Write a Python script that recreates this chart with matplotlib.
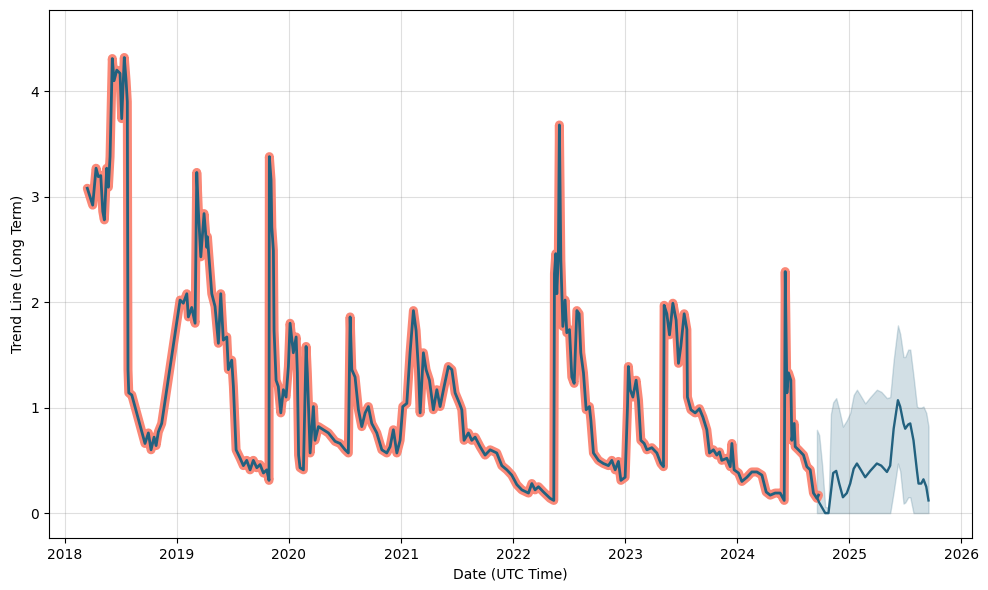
import numpy as np
import pandas as pd
import matplotlib
matplotlib.use('Agg')
import matplotlib.pyplot as plt
import matplotlib.dates as mdates

# history: decimal years since 2018-01-01, trend value
hist_t = [0.199, 0.232, 0.247, 0.277, 0.297, 0.319, 0.337, 0.351, 0.372, 0.387,
          0.402, 0.422, 0.438, 0.462, 0.491, 0.506, 0.529, 0.545, 0.556, 0.562,
          0.569, 0.596, 0.714, 0.744, 0.768, 0.795, 0.813, 0.833, 0.863, 1.027,
          1.056, 1.087, 1.101, 1.131, 1.161, 1.176, 1.190, 1.212, 1.241, 1.265,
          1.271, 1.310, 1.339, 1.369, 1.390, 1.413, 1.444, 1.458, 1.488, 1.503,
          1.527, 1.563, 1.592, 1.622, 1.652, 1.681, 1.712, 1.741, 1.771, 1.801,
          1.821, 1.824, 1.839, 1.846, 1.860, 1.866, 1.884, 1.904, 1.926, 1.949,
          1.973, 1.994, 2.009, 2.038, 2.063, 2.074, 2.085, 2.098, 2.128, 2.152,
          2.163, 2.188, 2.217, 2.232, 2.262, 2.306, 2.351, 2.411, 2.455, 2.500,
          2.529, 2.545, 2.560, 2.589, 2.619, 2.649, 2.679, 2.708, 2.738, 2.783,
          2.828, 2.872, 2.902, 2.931, 2.962, 2.991, 3.015, 3.051, 3.080, 3.110,
          3.134, 3.155, 3.170, 3.199, 3.223, 3.253, 3.288, 3.319, 3.348, 3.384,
          3.422, 3.453, 3.482, 3.521, 3.542, 3.562, 3.601, 3.631, 3.661, 3.705,
          3.750, 3.795, 3.854, 3.899, 3.944, 3.988, 4.033, 4.078, 4.137, 4.167,
          4.196, 4.226, 4.271, 4.330, 4.363, 4.369, 4.381, 4.390, 4.404, 4.413,
          4.426, 4.444, 4.464, 4.479, 4.503, 4.524, 4.545, 4.569, 4.589, 4.604,
          4.628, 4.652, 4.681, 4.694, 4.717, 4.762, 4.806, 4.851, 4.881, 4.911,
          4.940, 4.962, 5.000, 5.021, 5.029, 5.045, 5.069, 5.098, 5.119, 5.140,
          5.170, 5.194, 5.238, 5.283, 5.319, 5.342, 5.348, 5.372, 5.396, 5.426,
          5.455, 5.476, 5.497, 5.527, 5.551, 5.556, 5.587, 5.625, 5.663, 5.694,
          5.729, 5.753, 5.788, 5.818, 5.842, 5.863, 5.908, 5.938, 5.953, 5.973,
          6.012, 6.042, 6.087, 6.131, 6.176, 6.221, 6.259, 6.295, 6.339, 6.384,
          6.420, 6.429, 6.444, 6.458, 6.479, 6.488, 6.509, 6.518, 6.547, 6.592,
          6.622, 6.652, 6.681, 6.712, 6.726]
hist_y = [3.08, 2.97, 2.92, 3.27, 3.19, 3.20, 2.86, 2.78, 3.27, 3.09,
          3.38, 4.31, 4.10, 4.20, 4.17, 3.74, 4.32, 4.10, 3.90, 1.36,
          1.14, 1.12, 0.66, 0.76, 0.60, 0.72, 0.64, 0.77, 0.85, 2.02,
          1.99, 2.08, 1.86, 1.95, 1.80, 3.23, 2.87, 2.43, 2.84, 2.52,
          2.62, 2.08, 1.96, 1.61, 2.08, 1.64, 1.67, 1.36, 1.45, 1.20,
          0.60, 0.52, 0.45, 0.50, 0.41, 0.50, 0.43, 0.46, 0.38, 0.41,
          0.31, 3.38, 3.16, 2.71, 2.49, 1.73, 1.26, 1.20, 0.95, 1.17,
          1.10, 1.39, 1.80, 1.52, 1.67, 1.33, 0.55, 0.43, 0.41, 1.58,
          1.33, 0.57, 1.01, 0.69, 0.82, 0.79, 0.76, 0.68, 0.66, 0.60,
          0.57, 1.86, 1.36, 1.29, 0.98, 0.82, 0.95, 1.01, 0.85, 0.76,
          0.60, 0.57, 0.63, 0.79, 0.57, 0.69, 1.01, 1.04, 1.52, 1.92,
          1.73, 1.36, 0.95, 1.52, 1.36, 1.26, 0.98, 1.17, 1.01, 1.20,
          1.39, 1.36, 1.14, 1.04, 0.98, 0.69, 0.76, 0.69, 0.72, 0.63,
          0.55, 0.60, 0.57, 0.45, 0.41, 0.36, 0.27, 0.22, 0.19, 0.28,
          0.22, 0.25, 0.20, 0.14, 0.12, 2.27, 2.46, 2.08, 2.46, 3.68,
          2.40, 1.77, 2.02, 1.71, 1.74, 1.29, 1.23, 1.92, 1.89, 1.52,
          1.33, 0.98, 1.01, 0.88, 0.57, 0.50, 0.47, 0.45, 0.50, 0.41,
          0.49, 0.31, 0.34, 1.01, 1.39, 1.17, 1.10, 1.26, 1.07, 0.69,
          0.66, 0.60, 0.62, 0.57, 0.47, 0.44, 1.97, 1.89, 1.69, 1.99,
          1.83, 1.42, 1.58, 1.89, 1.74, 1.10, 0.98, 0.95, 0.99, 0.91,
          0.79, 0.57, 0.60, 0.55, 0.58, 0.50, 0.52, 0.44, 0.66, 0.41,
          0.38, 0.30, 0.34, 0.39, 0.39, 0.36, 0.20, 0.17, 0.19, 0.19,
          0.12, 2.29, 1.14, 1.33, 1.26, 0.69, 0.85, 0.63, 0.60, 0.55,
          0.44, 0.41, 0.19, 0.14, 0.17]

# forecast part
fc_t = [6.712, 6.732, 6.759, 6.786, 6.815, 6.837, 6.857, 6.884, 6.911, 6.944,
        6.979, 7.009, 7.040, 7.069, 7.098, 7.143, 7.188, 7.247, 7.286, 7.337,
        7.366, 7.397, 7.435, 7.455, 7.485, 7.500, 7.527, 7.545, 7.574, 7.605,
        7.619, 7.643, 7.663, 7.688, 7.708]
fc_y = [0.15, 0.10, 0.05, 0.00, 0.00, 0.20, 0.38, 0.40, 0.28, 0.15,
        0.19, 0.28, 0.42, 0.47, 0.42, 0.34, 0.40, 0.47, 0.45, 0.39,
        0.45, 0.80, 1.07, 1.01, 0.85, 0.80, 0.84, 0.85, 0.69, 0.40,
        0.28, 0.28, 0.32, 0.25, 0.12]
fc_lo = [0.00, 0.00, 0.00, 0.00, 0.00, 0.00, 0.00, 0.00, 0.00, 0.00,
         0.00, 0.00, 0.00, 0.00, 0.00, 0.00, 0.00, 0.00, 0.00, 0.00,
         0.00, 0.20, 0.47, 0.40, 0.09, 0.10, 0.15, 0.15, 0.00, 0.00,
         0.00, 0.00, 0.00, 0.00, 0.00]
fc_hi = [0.79, 0.74, 0.45, 0.06, 0.05, 0.94, 1.05, 1.09, 0.98, 0.82,
         0.88, 0.95, 1.12, 1.17, 1.12, 1.04, 1.10, 1.17, 1.15, 1.09,
         1.10, 1.45, 1.78, 1.70, 1.48, 1.48, 1.55, 1.55, 1.30, 1.01,
         1.00, 1.00, 1.01, 0.95, 0.82]


def to_dates(t):
    return pd.Timestamp('2018-01-01') + pd.to_timedelta(np.array(t) * 365.25, unit='D')


hd = to_dates(hist_t)
fd = to_dates(fc_t)

blue = '#22617f'
fig, ax = plt.subplots(figsize=(9.88, 5.9), dpi=100)
fig.subplots_adjust(left=0.0496, right=0.984, top=0.983, bottom=0.088)
ax.fill_between(fd, fc_lo, fc_hi, color=blue, alpha=0.2, linewidth=1)
ax.plot(hd, hist_y, color='#fa8270', linewidth=6.5, alpha=0.95,
        solid_capstyle='round', solid_joinstyle='round')
ax.plot(hd, hist_y, color=blue, linewidth=2)
ax.plot(fd, fc_y, color=blue, linewidth=1.7)

ax.xaxis.set_major_locator(mdates.YearLocator())
ax.xaxis.set_major_formatter(mdates.DateFormatter('%Y'))
ax.set_xlim(to_dates([-0.143])[0], to_dates([8.098])[0])
ax.set_ylim(-0.237, 4.77)
ax.grid(True, color='gray', alpha=0.25)
ax.set_xlabel('Date (UTC Time)')
ax.set_ylabel('Trend Line (Long Term)')
fig.savefig('out.png')
